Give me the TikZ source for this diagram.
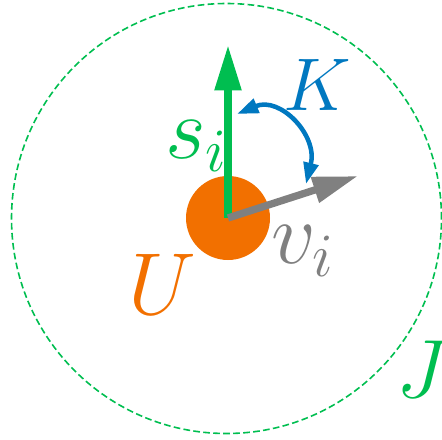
\RequirePackage{fix-cm}
\documentclass[tikz,border=0pt]{standalone}
\usepackage{tikz}
\usetikzlibrary{arrows.meta}
\definecolor{ringgreen}{RGB}{0,190,80}
\definecolor{coreorange}{RGB}{242,112,0}
\definecolor{turnblue}{RGB}{0,120,192}
\definecolor{velgray}{RGB}{128,128,128}

\begin{document}
\begin{tikzpicture}[
    x=0.75pt,
    y=-0.75pt,
    ring/.style={
        circle,
        draw=ringgreen,
        dash pattern=on 5pt off 2.5pt,
        line width=1.2pt,
        minimum size=322.5pt,
        inner sep=0pt
    },
    core/.style={
        circle,
        fill=coreorange,
        minimum size=63pt,
        inner sep=0pt
    },
    vec/.style={line width=5.5pt, -{Triangle[length=34pt, width=19pt]}},
    turn/.style={
        draw=turnblue,
        line width=3.4pt,
        {Triangle[length=16pt, width=11pt]}-{Triangle[length=16pt, width=11pt]}
    },
    lab/.style={inner sep=0pt, anchor=base west, font=\fontsize{66}{70}\selectfont}
]
\useasboundingbox (0,0) rectangle (442,439);

\node[ring] (ring) at (226.5,218.5) {};
\node[core] (core) at (228,218) {};

\coordinate (o) at (228,218);
\coordinate (stip) at (228,45);
\coordinate (vtip) at (358,176);
\coordinate (ka) at (237,114);
\coordinate (kb) at (306,184);

\draw[vec, ringgreen] (o) -- (stip);
\draw[vec, velgray] (o) -- (vtip);
\draw[turn] (ka) .. controls (280,96) and (318,135) .. (kb);

% labels
\node[lab, text=ringgreen] (slab) at (165,158) {$s_i$};
\node[lab, text=turnblue, font=\fontsize{56}{60}\selectfont] (klab) at (283,110) {$K$};
\node[lab, text=velgray] (vlab) at (271,263) {$v_i$};
\node[lab, text=coreorange] (ulab) at (128,314) {$U$};
\node[lab, text=ringgreen, font=\fontsize{62}{66}\selectfont] (jlab) at (396,397) {$J$};

\end{tikzpicture}
\end{document}
